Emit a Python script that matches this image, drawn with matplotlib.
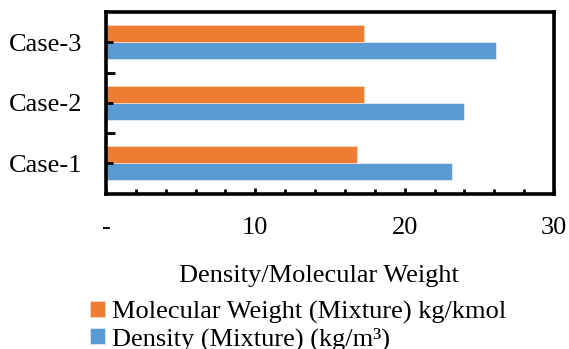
import matplotlib
matplotlib.use('Agg')
import matplotlib.pyplot as plt
import numpy as np
from matplotlib.ticker import FixedLocator, MultipleLocator

plt.rcParams['font.family'] = ['Liberation Serif', 'DejaVu Serif']

cases = ['Case-1', 'Case-2', 'Case-3']
density = [23.2, 23.95, 26.1]          # kg/m3
mol_weight = [16.8, 17.3, 17.3]        # kg/kmol

BLUE = '#5B9BD5'
ORANGE = '#ED7D31'
FS = 19

fig = plt.figure(figsize=(5.69, 3.49), dpi=100)
ax = fig.add_axes([106 / 569, 1 - 193.5 / 349, (554 - 106) / 569, (193.5 - 12) / 349])

y = np.arange(len(cases))
h = 0.285
ax.barh(y - h / 2, density, height=h, color=BLUE, edgecolor='#dbe8f5',
        linewidth=0.6, label='Density (Mixture) (kg/m³)')
ax.barh(y + h / 2, mol_weight, height=h, color=ORANGE, edgecolor='#f8d8c2',
        linewidth=0.6, label='Molecular Weight (Mixture) kg/kmol')

ax.set_xlim(0, 30)
ax.set_ylim(-0.5, 2.5)

# x axis: labelled every 10, small marks every 2
ax.xaxis.set_major_locator(FixedLocator([0, 10, 20, 30]))
ax.xaxis.set_minor_locator(MultipleLocator(2))
ax.set_xticklabels(['-', '10', '20', '30'], fontsize=FS)
ax.tick_params(axis='x', which='major', direction='in', length=4.5, width=2.0, pad=17)
ax.tick_params(axis='x', which='minor', direction='in', length=3.4, width=2.0)

# y axis: case names at the centres, marks between categories
ax.set_yticks(y)
ax.set_yticklabels(cases, fontsize=FS)
ax.yaxis.set_minor_locator(FixedLocator([0.5, 1.5]))
ax.tick_params(axis='y', which='major', direction='in', length=5, width=2.0, pad=17)
ax.tick_params(axis='y', which='minor', direction='in', length=6.5, width=2.0)

for sp in ax.spines.values():
    sp.set_linewidth(2.6)
    sp.set_color('black')

fig.text(318.5 / 569, 1 - 282 / 349, 'Density/Molecular Weight', fontsize=FS,
         ha='center', va='baseline')

handles, labels = ax.get_legend_handles_labels()
fig.legend(handles[::-1], labels[::-1], loc='upper left',
           bbox_to_anchor=(90 / 569, 1 - 301 / 349), frameon=False, fontsize=FS,
           borderpad=0, borderaxespad=0, handlelength=0.55, handleheight=0.55,
           handletextpad=0.3, labelspacing=0.12)

fig.savefig('out.png', dpi=100)
